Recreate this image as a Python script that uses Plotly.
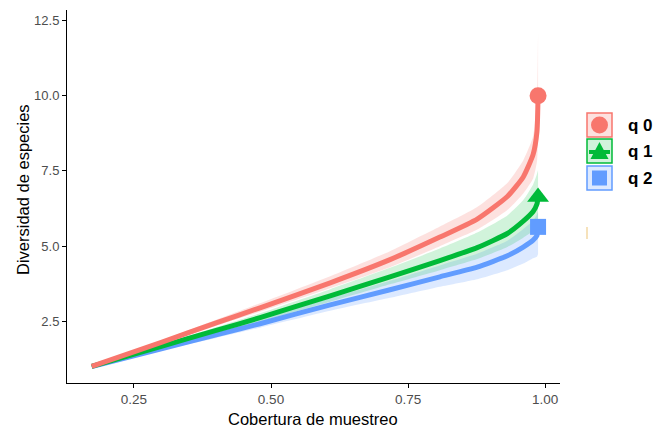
import plotly.graph_objects as go

# Sample coverage (x) and diversity estimates
coverage = [0.173, 0.30, 0.40, 0.48, 0.608, 0.717, 0.808, 0.876, 0.931, 0.960, 0.978, 0.985, 0.987]

q0 = [1.0, 1.80, 2.45, 2.95, 3.78, 4.55, 5.30, 5.90, 6.65, 7.30, 8.05, 8.81, 10.0]
q0_lo = [1.0, 1.75, 2.35, 2.82, 3.60, 4.30, 5.00, 5.55, 6.20, 6.75, 7.25, 7.81, 8.8]
q0_hi = [1.0, 1.86, 2.55, 3.10, 4.00, 4.83, 5.65, 6.30, 7.10, 7.85, 8.65, 10.0, 12.1]

q1 = [1.0, 1.67, 2.20, 2.62, 3.35, 3.98, 4.52, 4.95, 5.42, 5.83, 6.15, 6.40, 6.63]
q1_lo = [1.0, 1.62, 2.10, 2.49, 3.15, 3.73, 4.20, 4.57, 4.97, 5.28, 5.50, 5.60, 5.73]
q1_hi = [1.0, 1.73, 2.30, 2.77, 3.57, 4.28, 4.92, 5.45, 6.02, 6.53, 7.05, 7.40, 7.53]

q2 = [1.0, 1.59, 2.05, 2.42, 3.05, 3.55, 3.98, 4.30, 4.68, 4.97, 5.20, 5.35, 5.64]
q2_lo = [1.0, 1.54, 1.95, 2.29, 2.85, 3.28, 3.65, 3.90, 4.20, 4.42, 4.60, 4.65, 4.74]
q2_hi = [1.0, 1.65, 2.15, 2.57, 3.27, 3.85, 4.36, 4.75, 5.18, 5.57, 5.85, 6.05, 6.14]

labels = ["q 0", "q 1", "q 2"]
x_title = "Cobertura de muestreo"
y_title = "Diversidad de especies"
x_ticks = [0.25, 0.50, 0.75, 1.00]
x_ticktext = ["0.25", "0.50", "0.75", "1.00"]
y_ticks = [2.5, 5.0, 7.5, 10.0, 12.5]
y_ticktext = ["2.5", "5.0", "7.5", "10.0", "12.5"]

colors = ["#F8766D", "#00BA38", "#619CFF"]
fills = ["rgba(248,118,109,0.22)", "rgba(0,186,56,0.18)", "rgba(97,156,255,0.22)"]
symbols = ["circle", "triangle-up", "square"]
msizes = [17, 19, 16]

series = [(q0, q0_lo, q0_hi), (q1, q1_lo, q1_hi), (q2, q2_lo, q2_hi)]

fig = go.Figure()
for i in [2, 1, 0]:
    y, lo, hi = series[i]
    fig.add_trace(go.Scatter(x=coverage, y=lo, mode="lines",
                             line=dict(width=0, shape="spline", smoothing=0.5),
                             showlegend=False, hoverinfo="skip"))
    fig.add_trace(go.Scatter(x=coverage, y=hi, mode="lines",
                             line=dict(width=0, shape="spline", smoothing=0.5),
                             fill="tonexty", fillcolor=fills[i],
                             showlegend=False, hoverinfo="skip"))
for i in [2, 1, 0]:
    y, lo, hi = series[i]
    fig.add_trace(go.Scatter(x=coverage, y=y, mode="lines",
                             line=dict(color=colors[i], width=5, shape="spline", smoothing=0.5),
                             showlegend=False))
    fig.add_trace(go.Scatter(x=[coverage[-1]], y=[y[-1]], mode="markers",
                             marker=dict(color=colors[i], symbol=symbols[i], size=msizes[i]),
                             showlegend=False))

# The page body has an 8px margin: figure pixel = screen pixel - 8
OFF = 8
W, H = 662 - OFF, 427 - OFF
L, R, T, B = 67 - OFF, 560 - OFF, 10 - OFF, 383 - OFF


def px(xs):
    return (xs - OFF - L) / (R - L)


def py(ys):
    return (B - (ys - OFF)) / (B - T)


shapes = []
annotations = []
key_tops = [113, 139, 166]
for i, top in enumerate(key_tops):
    bot = top + 24
    shapes.append(dict(type="rect", xref="paper", yref="paper",
                       x0=px(587), x1=px(612), y0=py(bot), y1=py(top),
                       line=dict(color=colors[i], width=1.5), fillcolor=fills[i]))
    cy = (top + bot) / 2
    cx = 599.5
    if i == 0:
        shapes.append(dict(type="circle", xref="paper", yref="paper",
                           x0=px(cx - 8.5), x1=px(cx + 8.5), y0=py(cy + 8.5), y1=py(cy - 8.5),
                           line=dict(width=0), fillcolor=colors[i]))
    elif i == 1:
        shapes.append(dict(type="line", xref="paper", yref="paper",
                           x0=px(589), x1=px(610), y0=py(cy + 1), y1=py(cy + 1),
                           line=dict(color=colors[i], width=4)))
        shapes.append(dict(type="path", xref="paper", yref="paper",
                           path=f"M {px(cx-9)} {py(cy+8)} L {px(cx+9)} {py(cy+8)} L {px(cx)} {py(cy-9)} Z",
                           line=dict(width=0), fillcolor=colors[i]))
    else:
        shapes.append(dict(type="rect", xref="paper", yref="paper",
                           x0=px(cx - 7.5), x1=px(cx + 7.5), y0=py(cy + 7.5), y1=py(cy - 7.5),
                           line=dict(width=0), fillcolor=colors[i]))
    annotations.append(dict(xref="paper", yref="paper", x=px(626), y=py(cy),
                            xanchor="left", yanchor="middle", text="<b>" + labels[i] + "</b>",
                            showarrow=False, font=dict(size=17, color="black",
                                                       family="Liberation Sans, Arial")))

# axis titles
annotations.append(dict(xref="paper", yref="paper", x=px(313), y=py(419),
                        xanchor="center", yanchor="middle", text=x_title, showarrow=False,
                        font=dict(size=16.5, color="black", family="Liberation Sans, Arial")))
annotations.append(dict(xref="paper", yref="paper", x=px(23), y=py(190),
                        xanchor="center", yanchor="middle", text=y_title, showarrow=False,
                        textangle=-90,
                        font=dict(size=16.5, color="black", family="Liberation Sans, Arial")))

# small stray mark at right
shapes.append(dict(type="line", xref="paper", yref="paper",
                   x0=px(587), x1=px(587), y0=py(239), y1=py(227),
                   line=dict(color="#F3D9A4", width=1.5)))

fig.update_layout(
    width=W, height=H,
    margin=dict(l=L, r=W - R, t=T, b=H - B, autoexpand=False),
    plot_bgcolor="white", paper_bgcolor="white",
    showlegend=False,
    shapes=shapes, annotations=annotations,
    font=dict(family="Liberation Sans, Arial", color="black"),
    xaxis=dict(range=[0.128, 1.027], tickvals=x_ticks, ticktext=x_ticktext,
               showgrid=False, zeroline=False, showline=True, linecolor="black", linewidth=1,
               ticks="outside", ticklen=4, tickcolor="black", automargin=False,
               tickfont=dict(size=13.5, color="#4D4D4D")),
    yaxis=dict(range=[0.45, 12.85], tickvals=y_ticks, ticktext=y_ticktext,
               showgrid=False, zeroline=False, showline=True, linecolor="black", linewidth=1,
               ticks="outside", ticklen=4, tickcolor="black", automargin=False,
               tickfont=dict(size=13, color="#4D4D4D")),
)

fig.write_html("out.html")
